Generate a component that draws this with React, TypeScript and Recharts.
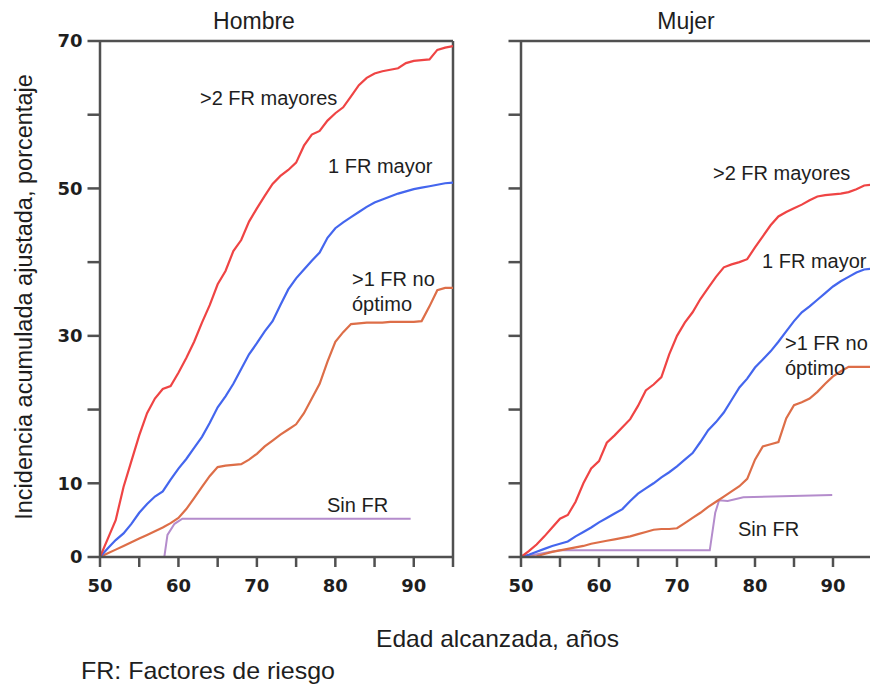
import React from 'react';
import { LineChart, Line, XAxis, YAxis, ReferenceLine } from 'recharts';

// ages for the yearly series
const AGES = [
  50, 51, 52, 53, 54, 55, 56, 57, 58, 59, 60, 61, 62, 63, 64, 65, 66, 67, 68, 69, 70, 71, 72,
  73, 74, 75, 76, 77, 78, 79, 80, 81, 82, 83, 84, 85, 86, 87, 88, 89, 90, 91, 92, 93, 94, 95,
];

// Hombre
const H_MAYORES_2 = [
  0, 2.5, 5, 9.5, 13, 16.5, 19.5, 21.5, 22.8, 23.2, 25, 27, 29.2, 31.8, 34.2, 37, 38.8, 41.5, 43,
  45.5, 47.3, 49, 50.6, 51.7, 52.5, 53.5, 55.8, 57.3, 57.8, 59.2, 60.2, 61, 62.5, 64, 65, 65.6,
  65.9, 66.1, 66.3, 67, 67.3, 67.4, 67.5, 68.8, 69.1, 69.3,
];
const H_MAYOR_1 = [
  0, 1.2, 2.3, 3.2, 4.5, 6, 7.2, 8.2, 8.9, 10.5, 12, 13.3, 14.8, 16.3, 18.2, 20.3, 21.8, 23.5,
  25.5, 27.5, 29, 30.6, 32, 34.2, 36.3, 37.8, 39, 40.2, 41.3, 43.3, 44.6, 45.4, 46.1, 46.8, 47.5,
  48.1, 48.5, 48.9, 49.3, 49.6, 49.9, 50.1, 50.3, 50.5, 50.7, 50.8,
];
const H_NO_OPTIMO = [
  0, 0.5, 1, 1.5, 2, 2.5, 3, 3.5, 4, 4.6, 5.3, 6.5, 8, 9.5, 11, 12.2, 12.4, 12.5, 12.6, 13.2, 14,
  15, 15.8, 16.6, 17.3, 18, 19.5, 21.5, 23.5, 26.5, 29.2, 30.5, 31.6, 31.7, 31.8, 31.8, 31.8, 31.9,
  31.9, 31.9, 31.9, 32, 34, 36.2, 36.5, 36.5,
];
const H_SIN_FR_EDAD = [50, 58.2, 58.6, 59.5, 60.5, 89.6];
const H_SIN_FR = [0, 0, 3, 4.5, 5.2, 5.2];

// Mujer
const M_MAYORES_2 = [
  0, 0.8, 1.7, 2.8, 4, 5.2, 5.7, 7.5, 10, 12, 13, 15.5, 16.5, 17.6, 18.7, 20.5, 22.6, 23.4, 24.4,
  27.5, 30, 31.8, 33.2, 35, 36.5, 38, 39.3, 39.7, 40, 40.4, 42, 43.5, 45, 46.2, 46.8, 47.3, 47.8,
  48.4, 48.9, 49.1, 49.2, 49.3, 49.5, 49.9, 50.4, 50.5,
];
const M_MAYOR_1 = [
  0, 0.3, 0.7, 1.1, 1.5, 1.8, 2.1, 2.8, 3.4, 4, 4.7, 5.3, 5.9, 6.5, 7.6, 8.6, 9.3, 10, 10.8, 11.5,
  12.3, 13.2, 14.1, 15.6, 17.2, 18.3, 19.6, 21.3, 23, 24.2, 25.7, 26.8, 27.9, 29.2, 30.6, 32, 33.2,
  34, 34.9, 35.8, 36.7, 37.4, 38, 38.6, 39, 39.1,
];
const M_NO_OPTIMO = [
  0, 0, 0.1, 0.4, 0.7, 0.9, 1.1, 1.3, 1.5, 1.8, 2, 2.2, 2.4, 2.6, 2.8, 3.1, 3.4, 3.7, 3.8, 3.8,
  3.9, 4.6, 5.3, 6, 6.8, 7.5, 8.2, 8.9, 9.6, 10.6, 13.2, 15, 15.3, 15.6, 18.8, 20.6, 21, 21.5,
  22.4, 23.5, 24.5, 25.2, 25.8, 25.8, 25.8, 25.8,
];
const M_SIN_FR_EDAD = [50, 55, 74.2, 74.9, 75.4, 76.5, 78.5, 89.9];
const M_SIN_FR = [0, 0.9, 0.9, 6, 7.7, 7.6, 8.1, 8.4];

const X_TICKS = [50, 55, 60, 65, 70, 75, 80, 85, 90, 95];
const X_LABELS = [50, 60, 70, 80, 90];
const Y_TICKS = [0, 10, 20, 30, 40, 50, 60, 70];
const Y_LABELS = [0, 10, 30, 50, 70];

const RED = '#ef4444';
const BLUE = '#4466ee';
const ORANGE = '#dd6e48';
const PURPLE = '#b48ccc';
const AXIS = '#505050';
const TEXT = '#1e1e1e';
const SANS = 'Liberation Sans, Arial, sans-serif';

const toPoints = (xs: number[], ys: number[]) => xs.map((x, i) => ({ age: x, v: ys[i] }));

const tickFont = { fontFamily: 'DejaVu Sans', fontWeight: 'bold', fontSize: 18, fill: TEXT };

type PanelProps = {
  left: number;
  width: number;
  yAxisWidth: number;
  marginRight: number;
  showYLabels: boolean;
  series: { data: { age: number; v: number }[]; color: string; width: number }[];
};

const Panel: React.FC<PanelProps> = ({ left, width, yAxisWidth, marginRight, showYLabels, series }) => (
  <div style={{ position: 'absolute', left, top: 0 }}>
    <LineChart width={width} height={600} margin={{ top: 41, right: marginRight, left: 0, bottom: 13 }}>
      <XAxis
        dataKey="age"
        type="number"
        domain={[50, 95]}
        ticks={X_TICKS}
        allowDataOverflow
        height={30}
        tickSize={10}
        tickMargin={12}
        tick={tickFont}
        tickFormatter={(v: number) => (X_LABELS.includes(v) ? String(v) : '')}
        axisLine={{ stroke: AXIS, strokeWidth: 2.5 }}
        tickLine={{ stroke: AXIS, strokeWidth: 2.5 }}
      />
      <YAxis
        type="number"
        domain={[0, 70]}
        ticks={Y_TICKS}
        width={yAxisWidth}
        tickSize={12.5}
        tickMargin={5}
        tick={tickFont}
        tickFormatter={(v: number) => (showYLabels && Y_LABELS.includes(v) ? String(v) : '')}
        axisLine={{ stroke: AXIS, strokeWidth: 2.5 }}
        tickLine={{ stroke: AXIS, strokeWidth: 2.5 }}
      />
      <ReferenceLine y={70} stroke={AXIS} strokeWidth={2.5} ifOverflow="visible" />
      <ReferenceLine x={95} stroke={AXIS} strokeWidth={2.5} ifOverflow="visible" />
      {series.map((s, i) => (
        <Line
          key={i}
          data={s.data}
          dataKey="v"
          type="linear"
          stroke={s.color}
          strokeWidth={s.width}
          dot={false}
          activeDot={false}
          isAnimationActive={false}
        />
      ))}
    </LineChart>
  </div>
);

const hombreSeries = [
  { data: toPoints(H_SIN_FR_EDAD, H_SIN_FR), color: PURPLE, width: 2 },
  { data: toPoints(AGES, H_NO_OPTIMO), color: ORANGE, width: 2.2 },
  { data: toPoints(AGES, H_MAYOR_1), color: BLUE, width: 2.2 },
  { data: toPoints(AGES, H_MAYORES_2), color: RED, width: 2.2 },
];

const mujerSeries = [
  { data: toPoints(M_SIN_FR_EDAD, M_SIN_FR), color: PURPLE, width: 2 },
  { data: toPoints(AGES, M_NO_OPTIMO), color: ORANGE, width: 2.2 },
  { data: toPoints(AGES, M_MAYOR_1), color: BLUE, width: 2.2 },
  { data: toPoints(AGES, M_MAYORES_2), color: RED, width: 2.2 },
];

const App: React.FC = () => {
  const lbl = { fontFamily: SANS, fontSize: 20, fill: TEXT };
  const big = { fontFamily: SANS, fontSize: 23, fill: TEXT };
  return (
    <div
      style={{
        position: 'fixed',
        left: 0,
        top: 0,
        width: 870,
        height: 684,
        overflow: 'hidden',
        background: '#fff',
      }}
    >
      <Panel left={0} width={460} yAxisWidth={100} marginRight={7} showYLabels series={hombreSeries} />
      <Panel left={420} width={470} yAxisWidth={101} marginRight={18} showYLabels={false} series={mujerSeries} />

      <svg width={870} height={684} style={{ position: 'absolute', left: 0, top: 0, pointerEvents: 'none' }}>
        <text x={254} y={29} textAnchor="middle" {...big}>Hombre</text>
        <text x={686} y={29} textAnchor="middle" {...big}>Mujer</text>

        <text x={200} y={105} {...lbl}>&gt;2 FR mayores</text>
        <text x={328} y={173} {...lbl}>1 FR mayor</text>
        <text x={352} y={286} {...lbl}>&gt;1 FR no</text>
        <text x={352} y={311} {...lbl}>óptimo</text>
        <text x={327} y={512} {...lbl}>Sin FR</text>

        <text x={713} y={180} {...lbl}>&gt;2 FR mayores</text>
        <text x={762} y={268} {...lbl}>1 FR mayor</text>
        <text x={785} y={350} {...lbl}>&gt;1 FR no</text>
        <text x={785} y={375} {...lbl}>óptimo</text>
        <text x={738} y={536} {...lbl}>Sin FR</text>

        <text
          x={32}
          y={297}
          textAnchor="middle"
          transform="rotate(-90 32 297)"
          {...big}
          fontSize={23.5}
        >
          Incidencia acumulada ajustada, porcentaje
        </text>
        <text x={376} y={647} fontFamily={SANS} fontSize={24} fill={TEXT} textLength={243} lengthAdjust="spacingAndGlyphs">
          Edad alcanzada, años
        </text>
        <text x={81} y={679} fontFamily={SANS} fontSize={24} fill={TEXT} textLength={254} lengthAdjust="spacingAndGlyphs">
          FR: Factores de riesgo
        </text>
      </svg>
    </div>
  );
};

export default App;
